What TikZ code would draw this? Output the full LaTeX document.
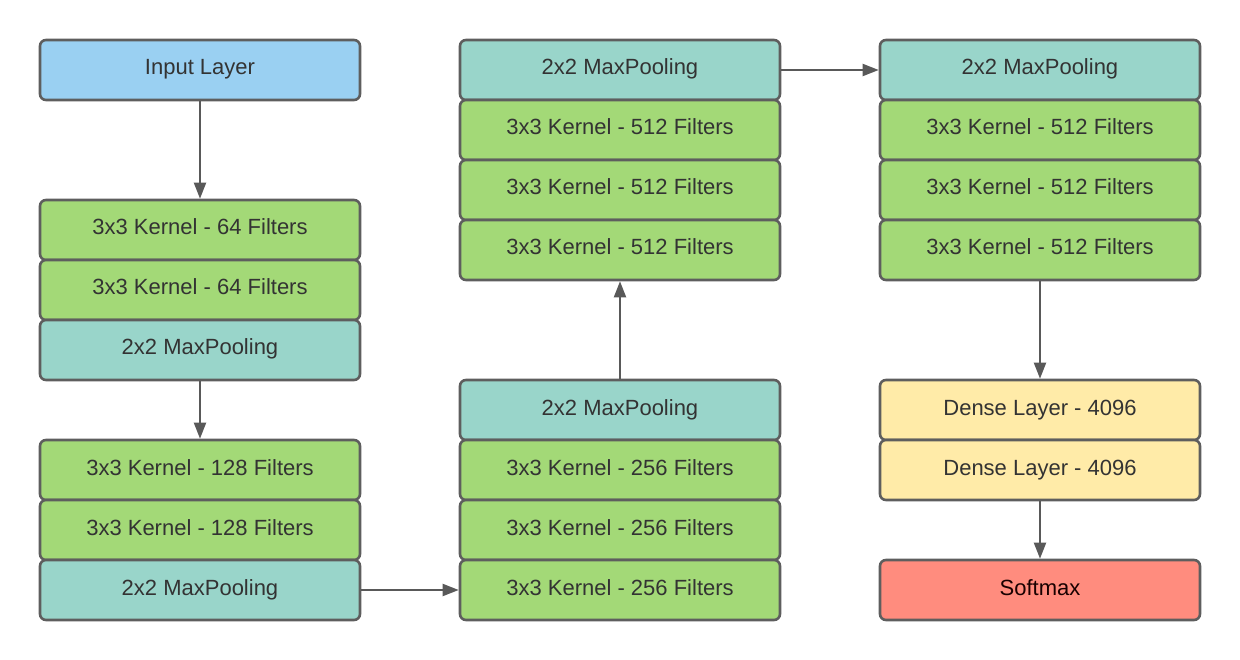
\documentclass[tikz,border=0pt]{standalone}
\usepackage{fontspec}
\setmainfont{Liberation Sans}
\usetikzlibrary{arrows.meta}
\definecolor{inblue}{HTML}{9AD0F2}
\definecolor{convgreen}{HTML}{A3D977}
\definecolor{poolteal}{HTML}{99D5CA}
\definecolor{denseyel}{HTML}{FFEBA8}
\definecolor{outred}{HTML}{FF8C7E}
\definecolor{edgegray}{HTML}{5E5E5E}
\definecolor{txtgray}{HTML}{333333}
\definecolor{arrgray}{HTML}{595959}
\tikzset{
  layerbox/.style={draw=edgegray, line width=2.6pt, rounded corners=6pt,
    minimum width=320pt, minimum height=60pt, inner sep=0pt,
    text height=16pt, text depth=6pt,
    font=\fontsize{22}{24}\selectfont, text=txtgray},
  inputbox/.style={layerbox, fill=inblue},
  convbox/.style={layerbox, fill=convgreen},
  poolbox/.style={layerbox, fill=poolteal},
  densebox/.style={layerbox, fill=denseyel},
  outbox/.style={layerbox, fill=outred, text=black!75!red!40!black},
  flow/.style={draw=arrgray, line width=2pt, -{Triangle[length=16pt,width=12pt]}}
}
\begin{document}
\begin{tikzpicture}[x=1pt,y=-1pt]
\useasboundingbox (0,0) rectangle (1240,660);
% first column
\node[inputbox] (in) at (200,70) {Input Layer};
\node[convbox] (c1a) at (200,230) {3x3 Kernel - 64 Filters};
\node[convbox] (c1b) at (200,290) {3x3 Kernel - 64 Filters};
\node[poolbox] (p1) at (200,350) {2x2 MaxPooling};
\node[convbox] (c2a) at (200,470) {3x3 Kernel - 128 Filters};
\node[convbox] (c2b) at (200,530) {3x3 Kernel - 128 Filters};
\node[poolbox] (p2) at (200,590) {2x2 MaxPooling};
% second column, bottom stack
\node[poolbox] (p3) at (620,410) {2x2 MaxPooling};
\node[convbox] (c3a) at (620,470) {3x3 Kernel - 256 Filters};
\node[convbox] (c3b) at (620,530) {3x3 Kernel - 256 Filters};
\node[convbox] (c3c) at (620,590) {3x3 Kernel - 256 Filters};
% second column, top stack
\node[poolbox] (p4) at (620,70) {2x2 MaxPooling};
\node[convbox] (c4a) at (620,130) {3x3 Kernel - 512 Filters};
\node[convbox] (c4b) at (620,190) {3x3 Kernel - 512 Filters};
\node[convbox] (c4c) at (620,250) {3x3 Kernel - 512 Filters};
% third column
\node[poolbox] (p5) at (1040,70) {2x2 MaxPooling};
\node[convbox] (c5a) at (1040,130) {3x3 Kernel - 512 Filters};
\node[convbox] (c5b) at (1040,190) {3x3 Kernel - 512 Filters};
\node[convbox] (c5c) at (1040,250) {3x3 Kernel - 512 Filters};
\node[densebox] (d1) at (1040,410) {Dense Layer - 4096};
\node[densebox] (d2) at (1040,470) {Dense Layer - 4096};
\node[outbox] (sm) at (1040,590) {Softmax};
% connectors
\draw[flow] (in.south) -- (c1a.north);
\draw[flow] (p1.south) -- (c2a.north);
\draw[flow] (p2.east) -- (c3c.west);
\draw[flow] (p3.north) -- (c4c.south);
\draw[flow] (p4.east) -- (p5.west);
\draw[flow] (c5c.south) -- (d1.north);
\draw[flow] (d2.south) -- (sm.north);
\end{tikzpicture}
\end{document}
